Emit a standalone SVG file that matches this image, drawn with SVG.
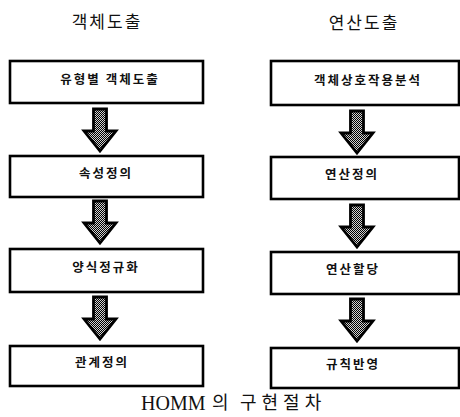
<svg xmlns="http://www.w3.org/2000/svg" width="460" height="417" viewBox="0 0 460 417">
  <style>
    .box { fill: #ffffff; stroke: #000000; stroke-width: 2.6; }
    .lbl { font-family: "Noto Sans CJK KR", sans-serif; font-size: 12.5px; font-weight: bold; fill: #111111; text-anchor: middle; letter-spacing: 2px; }
    .title { font-family: "Noto Sans CJK KR", sans-serif; font-size: 17px; fill: #111111; text-anchor: middle; letter-spacing: 2px; }
    .cap { font-family: "Liberation Serif", "Noto Sans CJK KR", serif; font-size: 20px; fill: #111111; }
    .capk { font-family: "Noto Sans CJK KR", sans-serif; font-size: 18px; fill: #111111; }
    .arrow { fill: url(#checker); stroke: #000000; stroke-width: 2.8; stroke-linejoin: miter; }
  </style>
  <defs>
    <pattern id="checker" width="2" height="2" patternUnits="userSpaceOnUse">
      <rect width="2" height="2" fill="#d0d0d0"/>
      <rect width="1" height="1" fill="#000000"/>
      <rect x="1" y="1" width="1" height="1" fill="#000000"/>
    </pattern>
    <path id="arr" class="arrow" d="M-6.5,0 H6.5 V22 H16 L0,42 L-16,22 H-6.5 Z"/>
  </defs>

  <g id="titles">
    <text class="title" x="107" y="28">객체도출</text>
    <text class="title" x="364" y="29">연산도출</text>
  </g>

  <g id="connectors">
    <use href="#arr" transform="translate(100,109)"/>
    <use href="#arr" transform="translate(100,201)"/>
    <use href="#arr" transform="translate(100,297)"/>
    <use href="#arr" transform="translate(357,111)"/>
    <use href="#arr" transform="translate(357,205)"/>
    <use href="#arr" transform="translate(357,299)"/>
  </g>

  <g id="n-type-object">
    <rect class="box" x="10" y="61" width="193" height="42"/>
    <text class="lbl" x="110" y="84">유형별 객체도출</text>
  </g>
  <g id="n-attr">
    <rect class="box" x="10" y="156" width="193" height="41"/>
    <text class="lbl" x="106" y="178">속성정의</text>
  </g>
  <g id="n-normalize">
    <rect class="box" x="10" y="249" width="193" height="43"/>
    <text class="lbl" x="106" y="272">양식정규화</text>
  </g>
  <g id="n-relation">
    <rect class="box" x="10" y="346" width="193" height="40"/>
    <text class="lbl" x="102" y="367">관계정의</text>
  </g>

  <g id="n-interaction">
    <rect class="box" x="271" y="61" width="188" height="44"/>
    <text class="lbl" x="368" y="85">객체상호작용분석</text>
  </g>
  <g id="n-opdef">
    <rect class="box" x="271" y="157" width="188" height="42"/>
    <text class="lbl" x="352" y="179">연산정의</text>
  </g>
  <g id="n-opassign">
    <rect class="box" x="271" y="252" width="188" height="42"/>
    <text class="lbl" x="353" y="274">연산할당</text>
  </g>
  <g id="n-rule">
    <rect class="box" x="271" y="348" width="188" height="40"/>
    <text class="lbl" x="353" y="369">규칙반영</text>
  </g>

  <g id="caption">
    <text class="cap" x="141" y="410">HOMM</text>
    <text class="capk" x="212" y="409">의</text>
    <text class="capk" x="240" y="409" letter-spacing="5">구현절차</text>
  </g>
</svg>
